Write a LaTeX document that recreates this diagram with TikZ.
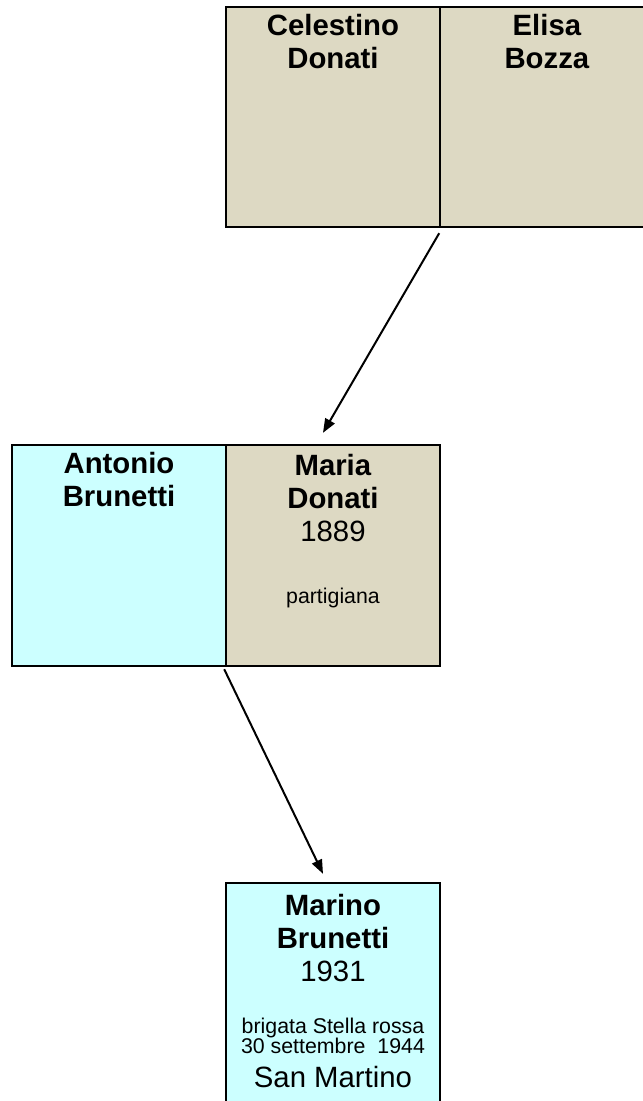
\documentclass[tikz,border=0pt]{standalone}
\usepackage{fontspec}
\setmainfont{Liberation Sans}
\usepackage{tikz}
\usetikzlibrary{arrows.meta, calc}
\definecolor{famBeige}{RGB}{221,217,195}
\definecolor{famCyan}{RGB}{204,255,255}
\tikzset{person/.style={draw, line width=1.8pt, inner sep=0pt, minimum width=160.5pt},
  bigname/.style={anchor=base, align=center, font=\fontsize{22}{24.75}\selectfont},
  smallnote/.style={anchor=base, align=center, font=\fontsize{16}{15}\selectfont},
  descent/.style={line width=1.5pt, -{Triangle[length=10.5pt, width=8pt]}}}

\begin{document}
\begin{tikzpicture}[x=0.75pt, y=-0.75pt]
\useasboundingbox (0,0) rectangle (643,1101);
\clip (0,0) rectangle (643,1101);
% grandparents (base = last line)
\node[person, fill=famBeige, minimum height=165pt] (celestino) at (333,117) {};
\node[person, fill=famBeige, minimum height=165pt] (elisa) at (547,117) {};
\node[bigname] (celestino name) at (333,68) {\textbf{Celestino}\\\textbf{Donati}};
\node[bigname] (elisa name) at (547,68) {\textbf{Elisa}\\\textbf{Bozza}};
% parents
\node[person, fill=famCyan, minimum height=165.75pt] (antonio) at (119,555.5) {};
\node[person, fill=famBeige, minimum height=165.75pt] (maria) at (333,555.5) {};
\node[bigname] (antonio name) at (119,506) {\textbf{Antonio}\\\textbf{Brunetti}};
\node[bigname] (maria name) at (333,541) {\textbf{Maria}\\\textbf{Donati}\\1889};
\node[smallnote] (maria note) at (333,603) {partigiana};
% child
\node[person, fill=famCyan, minimum height=180pt] (marino) at (333,1003) {};
\node[bigname] (marino name) at (333,981) {\textbf{Marino}\\\textbf{Brunetti}\\1931};
\node[smallnote] (marino note) at (333,1053) {brigata Stella rossa\\30 settembre~~1944};
\node[bigname] (marino place) at (333,1087) {San Martino};
% descent arrows
\draw[descent] ($(celestino.south east)+(-2,5)$) -- ($(maria.north)+(-10,-11)$);
\draw[descent] ($(antonio.south east)+(-3,2)$) -- ($(marino.north)+(-10,-8)$);
\end{tikzpicture}
\end{document}
